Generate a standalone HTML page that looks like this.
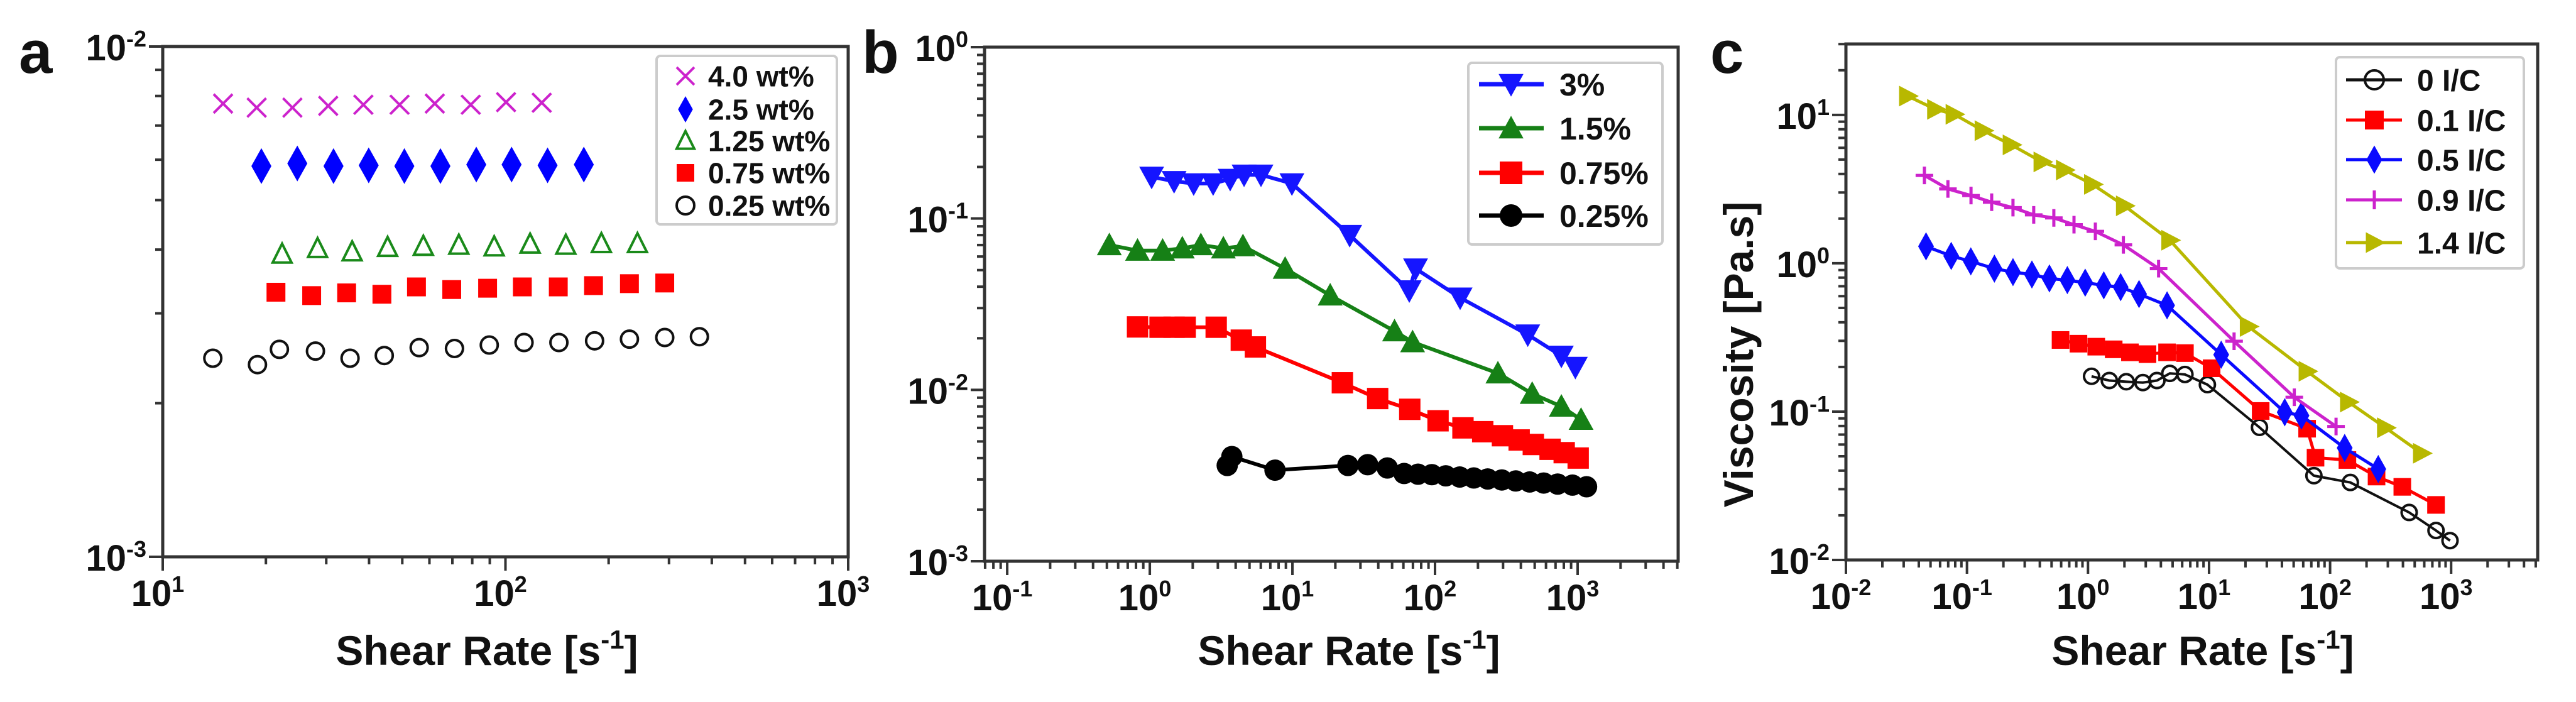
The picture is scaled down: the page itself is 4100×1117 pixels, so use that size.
<!DOCTYPE html>
<html><head><meta charset="utf-8"><style>
html,body{margin:0;padding:0;background:#fff;}
svg{display:block;font-family:"Liberation Sans",Arial,sans-serif;font-weight:bold;}
</style></head><body>
<svg id="fig" width="4100" height="1117" viewBox="0 0 4100 1117" xmlns="http://www.w3.org/2000/svg"></svg>
<script>
// ---------- Panel a data ----------
const aX40 = [15.0,18.8,23.9,30.4,38.5,49.1,62.2,79.2,100.4,127.6];
const aY40 = [7.73e-3,7.59e-3,7.59e-3,7.65e-3,7.69e-3,7.69e-3,7.73e-3,7.69e-3,7.78e-3,7.76e-3];
const aX25 = [19.4,24.7,31.5,39.9,50.7,64.6,82.2,104.2,132.7,169.3];
const aY25 = [5.83e-3,5.90e-3,5.83e-3,5.85e-3,5.83e-3,5.83e-3,5.87e-3,5.87e-3,5.85e-3,5.87e-3];
const aX125 = [22.3,28.3,35.7,45.3,57.6,73.1,92.7,118,150,190.5,242.7];
const aY125 = [3.92e-3,4.02e-3,3.96e-3,4.04e-3,4.06e-3,4.08e-3,4.05e-3,4.10e-3,4.08e-3,4.11e-3,4.11e-3];
const aX075 = [21.4,27.2,34.4,43.6,55,69.7,88.7,112,142.6,180.7,230,291.6];
const aY075 = [3.30e-3,3.25e-3,3.29e-3,3.27e-3,3.38e-3,3.34e-3,3.36e-3,3.38e-3,3.38e-3,3.40e-3,3.43e-3,3.44e-3];
const aX025 = [14.0,18.9,21.9,27.9,35.2,44.3,56,71,89.7,113.3,143.2,182,230,291.6,368];
const aY025 = [2.45e-3,2.38e-3,2.55e-3,2.53e-3,2.45e-3,2.48e-3,2.57e-3,2.56e-3,2.60e-3,2.63e-3,2.63e-3,2.65e-3,2.67e-3,2.69e-3,2.70e-3];
// ---------- Panel b data ----------
const bX3 = [1.03,1.48,2.03,2.78,3.66,4.58,6.02,9.92,25.2,66,73,150,447,769,964];
const bY3 = [0.175,0.165,0.16,0.16,0.17,0.18,0.18,0.16,0.080,0.038,0.051,0.0345,0.021,0.0158,0.0136];
const bX15 = [0.52,0.82,1.23,1.69,2.28,3.28,4.5,8.89,18.4,52,69.6,276,480,769,1057];
const bY15 = [0.070,0.065,0.065,0.067,0.070,0.067,0.069,0.051,0.0356,0.022,0.019,0.0125,0.0095,0.0080,0.0067];
const bX075 = [0.82,1.18,1.48,1.77,2.92,4.38,5.5,22.4,39.6,66.5,105,157,216,297,389,489,641,805,1009];
const bY075 = [0.0233,0.0232,0.0232,0.0232,0.0232,0.0195,0.0178,0.0110,0.0089,0.0077,0.0066,0.0060,0.0057,0.0054,0.0051,0.0048,0.0045,0.0043,0.0040];
const bX025 = [3.49,3.76,7.55,24.5,33.7,46.3,60.7,76,95,119,149,187,234,294,368,461,578,724,920,1155];
const bY025 = [0.00362,0.00408,0.0034,0.00362,0.00366,0.0035,0.00325,0.00322,0.0032,0.00315,0.0031,0.00306,0.00302,0.00298,0.00294,0.0029,0.00286,0.00282,0.00278,0.00272];
// ---------- Panel c data ----------
const cX0 = [1.07,1.5,2.07,2.84,3.71,4.74,6.32,9.69,26.1,73.5,147,450,750,979];
const cY0 = [0.173,0.162,0.159,0.157,0.162,0.181,0.178,0.152,0.0783,0.037,0.0333,0.0209,0.0158,0.0135];
const cX01 = [0.593,0.834,1.17,1.63,2.22,3.1,4.5,6.32,10.5,26.7,64.6,75.8,139,242,395,750];
const cY01 = [0.304,0.287,0.274,0.263,0.251,0.244,0.251,0.248,0.196,0.101,0.0767,0.0489,0.0472,0.0365,0.0311,0.0235];
const cX05 = [0.0459,0.0741,0.1076,0.1686,0.24,0.344,0.48,0.675,0.948,1.35,1.86,2.64,4.5,12.6,42.2,58,132,250];
const cY05 = [1.30,1.12,1.03,0.92,0.871,0.84,0.79,0.77,0.74,0.71,0.69,0.62,0.52,0.242,0.099,0.094,0.0569,0.041];
const cX09 = [0.0445,0.0696,0.108,0.16,0.24,0.356,0.522,0.766,1.15,1.96,3.83,16.1,50.6,112];
const cY09 = [3.91,3.17,2.86,2.58,2.37,2.12,2.02,1.82,1.64,1.33,0.92,0.298,0.125,0.0794];
const cX14 = [0.0323,0.0551,0.0783,0.136,0.232,0.417,0.639,1.09,2.0,4.74,21.1,64.6,142,287,569];
const cY14 = [13.4,10.9,10.1,7.83,6.28,4.82,4.25,3.40,2.44,1.43,0.375,0.187,0.116,0.0778,0.0524];

const NS = "http://www.w3.org/2000/svg";
const svg = document.getElementById('fig');
function mk(tag, attrs, parent){
  const e = document.createElementNS(NS, tag);
  for (const k in attrs) e.setAttribute(k, attrs[k]);
  (parent||svg).appendChild(e);
  return e;
}
function supText(parent, x, y, base, exp, anchor, size){
  const t = mk('text', {x:x, y:y, 'font-size':size, 'text-anchor':anchor, fill:'#111'}, parent);
  const s1 = mk('tspan', {}, t); s1.textContent = base;
  const s2 = mk('tspan', {'font-size':size*0.62, dy:-size*0.38}, t); s2.textContent = exp;
  return t;
}
function makeAxes(P){
  const g = mk('g', {});
  
  
  P.sx = v => P.x0 + (Math.log10(v) - P.xmin) / (P.xmax - P.xmin) * (P.x1 - P.x0);
  P.sy = v => P.y1 - (Math.log10(v) - P.ymin) / (P.ymax - P.ymin) * (P.y1 - P.y0);
  const frame = mk('rect', {x:P.x0, y:P.y0, width:P.x1-P.x0, height:P.y1-P.y0, fill:'none', stroke:'#333', 'stroke-width':5}, g);
  
  
  // x ticks
  for (let d = Math.floor(P.xmin); d <= Math.ceil(P.xmax); d++){
    for (let m = 1; m < 10; m++){
      const lv = d + Math.log10(m);
      if (lv < P.xmin - 1e-6 || lv > P.xmax + 1e-6) continue;
      const x = P.sx(Math.pow(10, lv));
      const len = m === 1 ? 22 : 12;
      mk('line', {x1:x, x2:x, y1:P.y1, y2:P.y1+len, stroke:'#333', 'stroke-width':4}, g);
    }
  }
  for (const d of P.xTicks){
    const lab = supText(g, P.sx(Math.pow(10,d)) - 8, P.y1 + 78, '10', String(d).replace('-', '-'), 'middle', 58);
    
    
  }
  // y ticks
  for (let d = Math.floor(P.ymin); d <= Math.ceil(P.ymax); d++){
    for (let m = 1; m < 10; m++){
      const lv = d + Math.log10(m);
      if (lv < P.ymin - 1e-6 || lv > P.ymax + 1e-6) continue;
      const y = P.sy(Math.pow(10, lv));
      const len = m === 1 ? 22 : 12;
      mk('line', {x1:P.x0-len, x2:P.x0, y1:y, y2:y, stroke:'#333', 'stroke-width':4}, g);
    }
  }
  for (const d of P.yTicks){
    const lab = supText(g, P.x0 - 26, P.sy(Math.pow(10,d)) + 22, '10', String(d), 'end', 58);
    
    
  }
  const xt = mk('text', {x:P.xtitleX, y:1058, 'font-size':66, 'text-anchor':'middle', fill:'#111'}, g);
  
  
  const t1 = mk('tspan', {}, xt); t1.textContent = 'Shear Rate [s';
  const t2 = mk('tspan', {'font-size':42, dy:-26}, xt); t2.textContent = '-1';
  const t3 = mk('tspan', {dy:26}, xt); t3.textContent = ']';
  const pl = mk('text', {x:P.labX, y:116, 'font-size':96, fill:'#111'}, g);
  
  
  pl.textContent = P.label;
  return g;
}
function marker(parent, type, x, y, s, color){
  let e;
  if (type === 'x'){
    e = mk('path', {d:`M${x-s/2} ${y-s/2}L${x+s/2} ${y+s/2}M${x-s/2} ${y+s/2}L${x+s/2} ${y-s/2}`, stroke:color, 'stroke-width':4, fill:'none'}, parent);
  } else if (type === 'diamond'){
    e = mk('path', {d:`M${x} ${y-s*0.75}L${x+s*0.42} ${y}L${x} ${y+s*0.75}L${x-s*0.42} ${y}Z`, fill:color}, parent);
  } else if (type === 'tri-open'){
    e = mk('path', {d:`M${x} ${y-s*0.55}L${x+s*0.5} ${y+s*0.45}L${x-s*0.5} ${y+s*0.45}Z`, fill:'none', stroke:color, 'stroke-width':4}, parent);
  } else if (type === 'tri'){
    e = mk('path', {d:`M${x} ${y-s*0.55}L${x+s*0.55} ${y+s*0.45}L${x-s*0.55} ${y+s*0.45}Z`, fill:color}, parent);
  } else if (type === 'tridown'){
    e = mk('path', {d:`M${x} ${y+s*0.55}L${x+s*0.55} ${y-s*0.45}L${x-s*0.55} ${y-s*0.45}Z`, fill:color}, parent);
  } else if (type === 'triright'){
    e = mk('path', {d:`M${x+s*0.6} ${y}L${x-s*0.45} ${y-s*0.55}L${x-s*0.45} ${y+s*0.55}Z`, fill:color}, parent);
  } else if (type === 'square'){
    e = mk('rect', {x:x-s/2, y:y-s/2, width:s, height:s, fill:color}, parent);
  } else if (type === 'circle-open'){
    e = mk('circle', {cx:x, cy:y, r:s/2, fill:'none', stroke:color, 'stroke-width':4}, parent);
  } else if (type === 'circle'){
    e = mk('circle', {cx:x, cy:y, r:s/2, fill:color}, parent);
  } else if (type === 'plus'){
    e = mk('path', {d:`M${x-s/2} ${y}L${x+s/2} ${y}M${x} ${y-s/2}L${x} ${y+s/2}`, stroke:color, 'stroke-width':5, fill:'none'}, parent);
  }
  
  
  return e;
}
function series(P, xs, ys, type, color, size, lineW, name){
  const g = mk('g', {});
  
  
  if (lineW){
    const pts = xs.map((v,i) => P.sx(v).toFixed(1) + ',' + P.sy(ys[i]).toFixed(1)).join(' ');
    const pl = mk('polyline', {points:pts, fill:'none', stroke:color, 'stroke-width':lineW}, g);
    
    
  }
  xs.forEach((v,i) => marker(g, type, P.sx(v), P.sy(ys[i]), size, color));
}
function legend(box, entries, name){
  const g = mk('g', {});
  
  
  mk('rect', {x:box.x, y:box.y, width:box.w, height:box.h, rx:6, fill:'#fff', stroke:'#ccc', 'stroke-width':4}, g);
  entries.forEach(en => {
    const eg = mk('g', {}, g);
    
    
    if (box.line) mk('line', {x1:box.lx0, x2:box.lx1, y1:en.y, y2:en.y, stroke:en.color, 'stroke-width':box.line}, eg);
    marker(eg, en.type, box.mx, en.y, box.ms, en.color);
    const t = mk('text', {x:box.tx, y:en.y + box.fs*0.36, 'font-size':box.fs, fill:'#111'}, eg);
    t.textContent = en.label;
  });
}

// ---------- Panel a ----------
const PA = {name:'panel-a-chart', x0:259, x1:1350, y0:74, y1:886, xmin:1, xmax:3, ymin:-3, ymax:-2, xTicks:[1,2,3], yTicks:[-2,-3], xtitleX:775, labX:30, label:'a'};
makeAxes(PA);
series(PA, aX40, aY40, 'x', '#cc22cc', 30, 0, 'series-4-0-wt');
series(PA, aX25, aY25, 'diamond', '#0000ff', 38, 0, 'series-2-5-wt');
series(PA, aX125, aY125, 'tri-open', '#1a8a1a', 30, 0, 'series-1-25-wt');
series(PA, aX075, aY075, 'square', '#ff0000', 30, 0, 'series-0-75-wt');
series(PA, aX025, aY025, 'circle-open', '#111', 27, 0, 'series-0-25-wt');
legend({x:1045, y:89, w:287, h:268, mx:1091, ms:28, tx:1127, fs:46, line:0}, [
  {y:121, type:'x', color:'#cc22cc', label:'4.0 wt%'},
  {y:174, type:'diamond', color:'#0000ff', label:'2.5 wt%'},
  {y:224, type:'tri-open', color:'#1a8a1a', label:'1.25 wt%'},
  {y:275, type:'square', color:'#ff0000', label:'0.75 wt%'},
  {y:327, type:'circle-open', color:'#111', label:'0.25 wt%'}], 'legend-a');

// ---------- Panel b ----------
const PB = {name:'panel-b-chart', x0:1567, x1:2671, y0:75, y1:893, xmin:-1.159, xmax:3.705, ymin:-3, ymax:0, xTicks:[-1,0,1,2,3], yTicks:[0,-1,-2,-3], xtitleX:2147, labX:1372, label:'b'};
makeAxes(PB);
series(PB, bX025, bY025, 'circle', '#000', 34, 6, 'series-0-25-pct');
series(PB, bX075, bY075, 'square', '#ff0000', 34, 6, 'series-0-75-pct');
series(PB, bX15, bY15, 'tri', '#168016', 36, 6, 'series-1-5-pct');
series(PB, bX3, bY3, 'tridown', '#1515ff', 36, 6, 'series-3-pct');
legend({x:2337, y:100, w:309, h:289, lx0:2354, lx1:2457, mx:2405, ms:36, tx:2482, fs:50, line:7}, [
  {y:134, type:'tridown', color:'#1515ff', label:'3%'},
  {y:204, type:'tri', color:'#168016', label:'1.5%'},
  {y:275, type:'square', color:'#ff0000', label:'0.75%'},
  {y:343, type:'circle', color:'#000', label:'0.25%'}], 'legend-b');

// ---------- Panel c ----------
const PC = {name:'panel-c-chart', x0:2938, x1:4039, y0:70, y1:891, xmin:-2, xmax:3.715, ymin:-2, ymax:1.478, xTicks:[-2,-1,0,1,2,3], yTicks:[1,0,-1,-2], xtitleX:3506, labX:2722, label:'c'};
makeAxes(PC);
const yt = mk('text', {x:0, y:0, 'font-size':66, 'text-anchor':'middle', fill:'#111', transform:'translate(2790,564) rotate(-90)'});


yt.textContent = 'Viscosity  [Pa.s]';
series(PC, cX0, cY0, 'circle-open', '#111', 24, 4, 'series-0-ic');
series(PC, cX01, cY01, 'square', '#ff0000', 28, 5, 'series-0-1-ic');
series(PC, cX05, cY05, 'diamond', '#0a0aff', 30, 5, 'series-0-5-ic');
series(PC, cX09, cY09, 'plus', '#cc22cc', 28, 5, 'series-0-9-ic');
series(PC, cX14, cY14, 'triright', '#b8b800', 30, 5, 'series-1-4-ic');
legend({x:3718, y:91, w:299, h:336, lx0:3734, lx1:3823, mx:3779, ms:30, tx:3847, fs:48, line:5}, [
  {y:127, type:'circle-open', color:'#111', label:'0 I/C'},
  {y:191, type:'square', color:'#ff0000', label:'0.1 I/C'},
  {y:254, type:'diamond', color:'#0a0aff', label:'0.5 I/C'},
  {y:318, type:'plus', color:'#cc22cc', label:'0.9 I/C'},
  {y:386, type:'triright', color:'#b8b800', label:'1.4 I/C'}], 'legend-c');
</script>
</body></html>
